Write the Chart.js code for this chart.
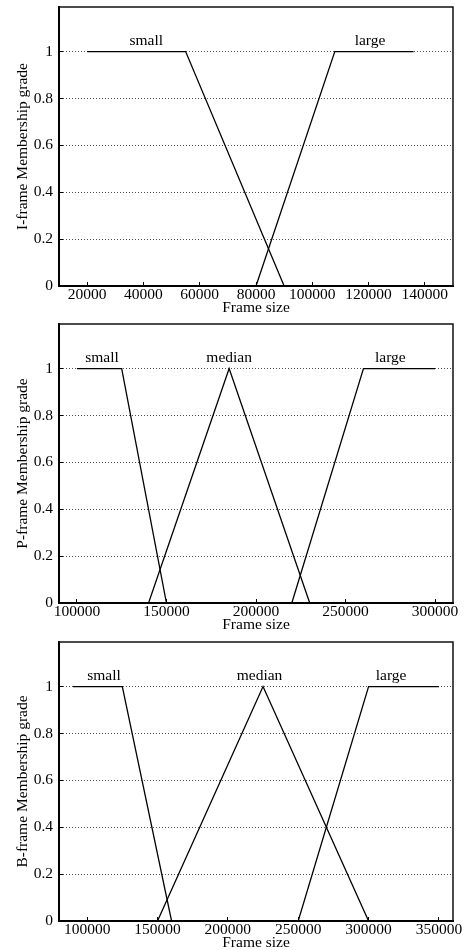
<!DOCTYPE html>
<html>
<head>
<meta charset="utf-8">
<title>Frame size membership functions</title>
<script src="https://cdn.jsdelivr.net/npm/chart.js@4.4.1/dist/chart.umd.min.js"></script>
<style>
  html, body { margin: 0; padding: 0; background: #fff; overflow: hidden; }
  body { width: 466px; height: 950px; position: relative; }
  canvas { position: absolute; left: 0; }
</style>
</head>
<body>
<canvas id="iFrameChart" width="466" height="317" style="top:0"></canvas>
<canvas id="pFrameChart" width="466" height="317" style="top:317px"></canvas>
<canvas id="bFrameChart" width="466" height="317" style="top:635px"></canvas>
<script>
// Fuzzy membership functions for I/P/B frame sizes

const gradeTicks = [0, 0.2, 0.4, 0.6, 0.8, 1];

// I-frame
const iSmallX = [20000, 55000, 90000];
const iSmallY = [1, 1, 0];
const iLargeX = [80000, 108000, 136000];
const iLargeY = [0, 1, 1];
const iTicks = [20000, 40000, 60000, 80000, 100000, 120000, 140000];
const iRange = [10000, 150000];
const iNames = ['small', 'large'];
const iNameAt = [41000, 120500];

// P-frame
const pSmallX = [100000, 125000, 150000];
const pSmallY = [1, 1, 0];
const pMedianX = [140000, 185000, 230000];
const pMedianY = [0, 1, 0];
const pLargeX = [220000, 260000, 300000];
const pLargeY = [0, 1, 1];
const pTicks = [100000, 150000, 200000, 250000, 300000];
const pRange = [90000, 310000];
const pNames = ['small', 'median', 'large'];
const pNameAt = [114000, 185000, 275000];

// B-frame
const bSmallX = [90000, 125000, 160000];
const bSmallY = [1, 1, 0];
const bMedianX = [150000, 225000, 300000];
const bMedianY = [0, 1, 0];
const bLargeX = [250000, 300000, 350000];
const bLargeY = [0, 1, 1];
const bTicks = [100000, 150000, 200000, 250000, 300000, 350000];
const bRange = [80000, 360000];
const bNames = ['small', 'median', 'large'];
const bNameAt = [112000, 222500, 316000];

const FONT = '"Liberation Serif", "Times New Roman", serif';
const TEXT_SIZE = 15.5;

const toPoints = (xs, ys) => xs.map((x, i) => ({ x: x, y: ys[i] }));

// set names written just above the grade-1 line, plus the top/right
// sides of the plot box (left/bottom are the axis borders)
const decorPlugin = {
  id: 'decor',
  afterDraw(chart, args, opts) {
    const { ctx, chartArea } = chart;
    const xs = chart.scales.x;
    const ys = chart.scales.y;
    ctx.save();
    ctx.strokeStyle = '#111';
    ctx.lineWidth = 1.5;
    ctx.beginPath();
    ctx.moveTo(chartArea.left, chartArea.top);
    ctx.lineTo(chartArea.right, chartArea.top);
    ctx.lineTo(chartArea.right, chartArea.bottom);
    ctx.stroke();

    ctx.font = `${TEXT_SIZE}px ${FONT}`;
    ctx.fillStyle = '#000';
    ctx.textAlign = 'center';
    ctx.textBaseline = 'middle';
    opts.names.forEach((name, i) => {
      ctx.fillText(name, xs.getPixelForValue(opts.at[i]), ys.getPixelForValue(1.047));
    });
    ctx.restore();
  }
};

// keep the plot box fixed, no extra room for overhanging labels
const noOverhang = s => {
  s.paddingTop = 0;
  s.paddingBottom = 0;
  s.paddingLeft = 0;
  s.paddingRight = 0;
};

function makeFrameChart(canvasId, series, ticks, range, names, nameAt, yTitle) {
  const ctx = document.getElementById(canvasId).getContext('2d');
  return new Chart(ctx, {
    type: 'scatter',
    data: {
      datasets: series.map(s => ({
        label: s.label,
        data: s.points,
        showLine: true,
        borderColor: '#000',
        borderWidth: 1.3,
        pointRadius: 0,
        tension: 0
      }))
    },
    plugins: [decorPlugin],
    options: {
      responsive: false,
      animation: false,
      devicePixelRatio: 1,
      layout: { padding: { top: 7, right: 13, bottom: 0, left: 0 } },
      plugins: {
        legend: { display: false },
        tooltip: { enabled: false },
        decor: { names: names, at: nameAt }
      },
      scales: {
        x: {
          type: 'linear',
          position: 'bottom',
          min: range[0],
          max: range[1],
          afterBuildTicks: s => { s.ticks = ticks.map(v => ({ value: v })); },
          afterFit: s => { s.height = 31; noOverhang(s); },
          ticks: {
            color: '#000',
            padding: 4,
            maxRotation: 0,
            autoSkip: false,
            font: { family: FONT, size: TEXT_SIZE },
            callback: v => String(v)
          },
          grid: {
            drawOnChartArea: false,
            drawTicks: true,
            tickLength: -4,
            tickColor: '#000',
            tickWidth: 1
          },
          border: { display: true, color: '#000', width: 2 },
          title: {
            display: true,
            text: 'Frame size',
            color: '#000',
            padding: { top: 0, bottom: 0 },
            font: { family: FONT, size: TEXT_SIZE }
          }
        },
        y: {
          type: 'linear',
          position: 'left',
          min: 0,
          max: 1.19,
          afterBuildTicks: s => { s.ticks = gradeTicks.map(v => ({ value: v })); },
          afterFit: s => { s.width = 59; noOverhang(s); },
          ticks: {
            color: '#000',
            padding: 10,
            font: { family: FONT, size: TEXT_SIZE },
            callback: v => String(v)
          },
          grid: {
            color: '#555',
            lineWidth: 1,
            drawTicks: true,
            tickLength: -4,
            tickColor: '#000',
            tickWidth: 1
          },
          border: { display: true, color: '#000', width: 2, dash: [1, 2] },
          title: {
            display: true,
            text: yTitle,
            color: '#000',
            padding: { top: 14, bottom: 0 },
            font: { family: FONT, size: TEXT_SIZE }
          }
        }
      }
    }
  });
}

makeFrameChart('iFrameChart', [
  { label: 'small', points: toPoints(iSmallX, iSmallY) },
  { label: 'large', points: toPoints(iLargeX, iLargeY) }
], iTicks, iRange, iNames, iNameAt, 'I-frame Membership grade');

makeFrameChart('pFrameChart', [
  { label: 'small', points: toPoints(pSmallX, pSmallY) },
  { label: 'median', points: toPoints(pMedianX, pMedianY) },
  { label: 'large', points: toPoints(pLargeX, pLargeY) }
], pTicks, pRange, pNames, pNameAt, 'P-frame Membership grade');

makeFrameChart('bFrameChart', [
  { label: 'small', points: toPoints(bSmallX, bSmallY) },
  { label: 'median', points: toPoints(bMedianX, bMedianY) },
  { label: 'large', points: toPoints(bLargeX, bLargeY) }
], bTicks, bRange, bNames, bNameAt, 'B-frame Membership grade');
</script>
</body>
</html>
